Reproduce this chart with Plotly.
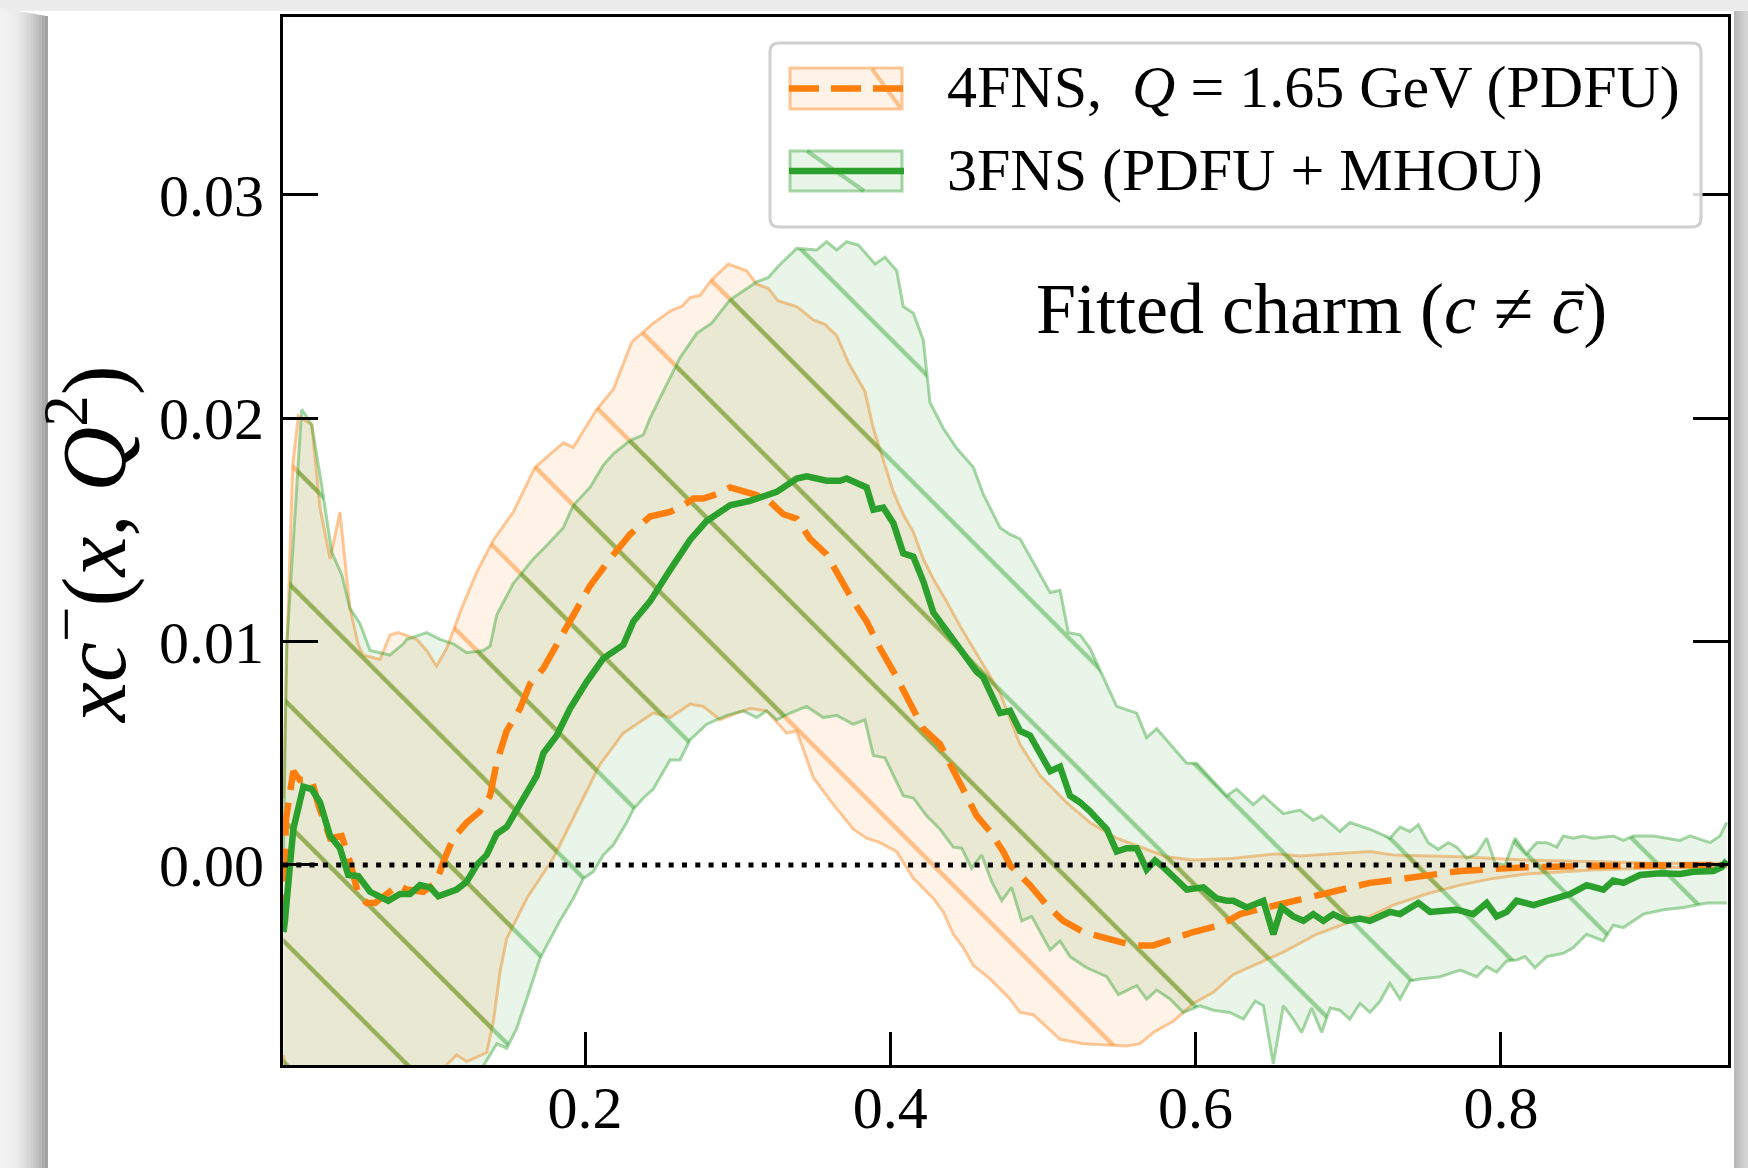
import plotly.graph_objects as go

# ---------------- data ----------------
ou_x = [0.0025, 0.0047, 0.0085, 0.0122, 0.021, 0.0264, 0.033, 0.0395, 0.046, 0.0513, 0.0546, 0.0657, 0.0722,
        0.0777, 0.0897, 0.0963, 0.1027, 0.1094, 0.1192, 0.129, 0.140, 0.153, 0.1672, 0.1858, 0.1923, 0.2077,
        0.2186, 0.2306, 0.2447, 0.2557, 0.2633, 0.2688, 0.2753, 0.283, 0.2939, 0.3059, 0.3125, 0.3201, 0.3266,
        0.3387, 0.3496, 0.3572, 0.3649, 0.3725, 0.3834, 0.3889, 0.3965, 0.402, 0.4085, 0.4151, 0.4216, 0.4282,
        0.4369, 0.4457, 0.4544, 0.4632, 0.4719, 0.485, 0.4981, 0.5155, 0.5308, 0.5483, 0.5657, 0.5811, 0.5985,
        0.6247, 0.6531, 0.6684, 0.6902, 0.7145, 0.7295, 0.7733, 0.8169, 0.8605, 0.9043, 0.948]
ou_y = [0.0030, 0.0096, 0.0179, 0.0201, 0.0197, 0.0160, 0.0137, 0.0158, 0.0115, 0.0099, 0.0094, 0.0092, 0.0103,
        0.0104, 0.0101, 0.0096, 0.0089, 0.0097, 0.0115, 0.0131, 0.01455, 0.0158, 0.0178, 0.0189, 0.0187, 0.0204,
        0.0213, 0.0234, 0.02425, 0.0248, 0.0250, 0.0254, 0.0255, 0.0262, 0.0269, 0.0266, 0.0260, 0.0258, 0.02525,
        0.0250, 0.0244, 0.0242, 0.0237, 0.0225, 0.0212, 0.01955, 0.0179, 0.0167, 0.0157, 0.0149, 0.0137, 0.0128,
        0.0118, 0.0107, 0.0097, 0.0087, 0.0077, 0.0054, 0.0040, 0.0028, 0.0019, 0.0012, 0.00075, 0.00037, 0.00022,
        0.0003, 0.0005, 0.0004, 0.0005, 0.0006, 0.00045, 0.00037, 0.00022, 0.00015, 0.00008, 0.00008]

ol_x = [0.0025, 0.006, 0.05, 0.10, 0.1094, 0.1159, 0.1225, 0.1356, 0.140, 0.1443, 0.1487, 0.1618, 0.1792, 0.1923,
        0.2098, 0.2251, 0.236, 0.2447, 0.2557, 0.2688, 0.2775, 0.2884, 0.2994, 0.3081, 0.319, 0.3321, 0.3387,
        0.3496, 0.3627, 0.3758, 0.3845, 0.3933, 0.4042, 0.4151, 0.4282, 0.4347, 0.4413, 0.4478, 0.4544, 0.4653,
        0.4784, 0.485, 0.4937, 0.5112, 0.5264, 0.5548, 0.5636, 0.5723, 0.5854, 0.5985, 0.6116, 0.6247, 0.6378,
        0.6575, 0.6793, 0.699, 0.7142, 0.7295, 0.7514, 0.7733, 0.795, 0.8169, 0.8605, 0.9043, 0.948]
ol_y = [-0.0085, -0.0105, -0.0120, -0.0105, -0.00895, -0.0085, -0.0088, -0.0084, -0.0070, -0.0048, -0.0033, -0.0015,
        0.0003, 0.0021, 0.0045, 0.0059, 0.0064, 0.0068, 0.0066, 0.0072, 0.0071, 0.0065, 0.0068, 0.0070, 0.0069,
        0.0059, 0.0060, 0.0039, 0.0027, 0.0016, 0.0012, 0.0010, 0.0006, -0.0006, -0.0015, -0.0021, -0.0031,
        -0.0037, -0.0045, -0.0051, -0.0060, -0.0066, -0.0067, -0.0078, -0.0080, -0.0081, -0.0080, -0.0075, -0.0070,
        -0.0062, -0.0057, -0.0049, -0.0045, -0.0039, -0.0031, -0.0026, -0.0023, -0.0018, -0.0013, -0.0009, -0.0006,
        -0.0004, -0.00022, -0.00012, -0.00007]

gu_x = [0.0025, 0.0044, 0.0144, 0.021, 0.0275, 0.0341, 0.0406, 0.046, 0.0526, 0.0592, 0.0722, 0.081, 0.0832, 0.0963,
        0.105, 0.1137, 0.1225, 0.1334, 0.1378, 0.1422, 0.153, 0.1661, 0.1749, 0.1858, 0.1923, 0.2033, 0.212, 0.2186,
        0.2295, 0.2382, 0.2426, 0.2491, 0.2622, 0.2732, 0.283, 0.295, 0.3125, 0.3201, 0.3266, 0.3387, 0.3518,
        0.3583, 0.3649, 0.3714, 0.3791, 0.39, 0.3965, 0.4042, 0.4085, 0.4151, 0.4216, 0.426, 0.4347, 0.4435,
        0.4544, 0.4609, 0.4719, 0.4784, 0.485, 0.5047, 0.5112, 0.5166, 0.5243, 0.5308, 0.5483, 0.5614, 0.5679,
        0.5745, 0.5942, 0.6007, 0.6204, 0.6269, 0.6378, 0.6444, 0.6575, 0.6684, 0.6771, 0.6826, 0.6945, 0.701,
        0.7142, 0.7273, 0.7339, 0.7404, 0.7459, 0.7524, 0.759, 0.7655, 0.771, 0.7776, 0.7841, 0.7907, 0.7961,
        0.8027, 0.8092, 0.8169, 0.8234, 0.83, 0.8366, 0.8409, 0.8474, 0.854, 0.8605, 0.8736, 0.8802, 0.8867,
        0.8998, 0.9173, 0.9239, 0.937, 0.9435, 0.948]
gu_y = [0.0005, 0.0096, 0.0204, 0.0197, 0.0170, 0.0140, 0.0130, 0.0115, 0.0108, 0.0096, 0.0094, 0.0099, 0.0101,
        0.0104, 0.0101, 0.0099, 0.0095, 0.0096, 0.0098, 0.0112, 0.0126, 0.0137, 0.0143, 0.0151, 0.0161, 0.0169,
        0.0179, 0.0184, 0.0190, 0.01925, 0.0200, 0.0209, 0.0227, 0.0238, 0.02425, 0.0253, 0.0261, 0.0263, 0.0268,
        0.0276, 0.02753, 0.0279, 0.02753, 0.0279, 0.02775, 0.0269, 0.0272, 0.0266, 0.0250, 0.0247, 0.0235,
        0.0207, 0.01955, 0.01865, 0.0178, 0.0166, 0.0151, 0.0148, 0.0146, 0.0122, 0.0123, 0.0104, 0.0103, 0.0097,
        0.0071, 0.0068, 0.0057, 0.0061, 0.00455, 0.00455, 0.0031, 0.0034, 0.0027, 0.0031, 0.0023, 0.00246,
        0.0020, 0.0022, 0.0015, 0.0019, 0.0016, 0.0012, 0.0017, 0.0015, 0.0018, 0.0010, 0.0007, 0.0010, 0.0008,
        0.0003, 0.0005, 0.0012, 0.0001, 0.0000, 0.0012, 0.0005, 0.0010, 0.0010, 0.0008, 0.0013, 0.0012, 0.0013,
        0.0012, 0.0013, 0.0011, 0.0013, 0.0013, 0.0011, 0.0013, 0.0010, 0.0013, 0.0019]

gl_x = [0.0025, 0.05, 0.12, 0.1334, 0.1422, 0.1487, 0.1553, 0.1618, 0.1705, 0.1749, 0.1836, 0.1923, 0.1989, 0.2054,
        0.212, 0.2186, 0.2273, 0.2317, 0.2382, 0.2447, 0.2557, 0.2622, 0.2688, 0.2797, 0.2928, 0.3037, 0.3125,
        0.319, 0.3256, 0.3343, 0.3452, 0.3561, 0.3649, 0.3758, 0.3834, 0.3889, 0.3965, 0.4085, 0.4151, 0.4238,
        0.4326, 0.4413, 0.4468, 0.4533, 0.4599, 0.4664, 0.473, 0.4795, 0.4861, 0.4926, 0.5047, 0.5112, 0.5177,
        0.5287, 0.5418, 0.5494, 0.5614, 0.5679, 0.5745, 0.5832, 0.5919, 0.603, 0.6116, 0.6225, 0.6313, 0.639,
        0.6444, 0.6509, 0.6575, 0.664, 0.6695, 0.676, 0.6826, 0.6881, 0.6945, 0.701, 0.7077, 0.7142, 0.7208,
        0.7273, 0.7339, 0.7404, 0.747, 0.7601, 0.7733, 0.7841, 0.7907, 0.7972, 0.8038, 0.8103, 0.8158, 0.8223,
        0.83, 0.8409, 0.8474, 0.8562, 0.8671, 0.8736, 0.8802, 0.8933, 0.9064, 0.9195, 0.9348, 0.948]
gl_y = [-0.0095, -0.0130, -0.0105, -0.0090, -0.0080, -0.0082, -0.0073, -0.0060, -0.0042, -0.0036, -0.0025, -0.0015,
        -0.0006, -0.0003, 0.00045, 0.0009, 0.0019, 0.0025, 0.0030, 0.0034, 0.0047, 0.0047, 0.0056, 0.0063, 0.0067,
        0.0069, 0.0066, 0.0069, 0.0065, 0.0068, 0.0071, 0.0066, 0.0067, 0.0063, 0.0065, 0.0049, 0.0048, 0.0031,
        0.0030, 0.0022, 0.0016, 0.0008, 0.00075, -0.00015, 0.00045, -0.00075, -0.0016, -0.0010, -0.0025, -0.0023,
        -0.0038, -0.0034, -0.0041, -0.0046, -0.0050, -0.0058, -0.0054, -0.0060, -0.0056, -0.0060, -0.0066, -0.0063,
        -0.0065, -0.0066, -0.0069, -0.0061, -0.0063, -0.0089, -0.0063, -0.0069, -0.0075, -0.0064, -0.0075, -0.0064,
        -0.0065, -0.0069, -0.0062, -0.0066, -0.0061, -0.0053, -0.0060, -0.0052, -0.0051, -0.0050, -0.0047, -0.0050,
        -0.00455, -0.0048, -0.0043, -0.00425, -0.0041, -0.0046, -0.0041, -0.00395, -0.0037, -0.0031, -0.0034,
        -0.0027, -0.0028, -0.0022, -0.0020, -0.0019, -0.0017, -0.0017]

oc_x = [0.0025, 0.0040, 0.0089, 0.0133, 0.021, 0.0253, 0.033, 0.0406, 0.046, 0.0515, 0.057, 0.0624, 0.0701, 0.0777,
        0.0832, 0.0941, 0.1028, 0.1072, 0.1137, 0.1225, 0.1312, 0.1378, 0.1422, 0.1487, 0.1574, 0.164, 0.1727,
        0.1792, 0.1902, 0.2033, 0.2164, 0.2295, 0.2426, 0.2557, 0.2644, 0.271, 0.2775, 0.2863, 0.295, 0.3015,
        0.3103, 0.319, 0.3299, 0.3387, 0.3474, 0.3583, 0.3671, 0.3758, 0.3845, 0.3933, 0.4042, 0.4129, 0.4216,
        0.4326, 0.4391, 0.4478, 0.4566, 0.4653, 0.474, 0.4784, 0.4915, 0.5025, 0.5133, 0.5264, 0.5418, 0.5592,
        0.5723, 0.5854, 0.5985, 0.616, 0.6291, 0.6466, 0.664, 0.6815, 0.699, 0.7142, 0.7295, 0.7514, 0.7733,
        0.795, 0.8169, 0.8605, 0.9043, 0.948]
oc_y = [-0.0028, 0.0020, 0.0042, 0.0038, 0.0038, 0.0027, 0.0012, 0.0013, 0.00015, -0.0013, -0.0017, -0.0017,
        -0.0013, -0.0009, -0.0011, -0.0012, -0.00075, 0.00015, 0.0012, 0.0019, 0.0024, 0.0031, 0.0046, 0.0060,
        0.0070, 0.0081, 0.0088, 0.0096, 0.0110, 0.0125, 0.0137, 0.0148, 0.0156, 0.0158, 0.0161, 0.0164, 0.0164,
        0.0166, 0.0169, 0.0168, 0.0166, 0.0164, 0.0157, 0.0155, 0.0146, 0.0139, 0.0128, 0.0118, 0.0109, 0.0097,
        0.0084, 0.0073, 0.0061, 0.0054, 0.0045, 0.0034, 0.0022, 0.0015, 0.0006, 0.0, -0.0009, -0.0018, -0.0025,
        -0.0030, -0.0033, -0.0036, -0.0036, -0.0033, -0.0030, -0.0027, -0.0022, -0.0019, -0.0016, -0.0013,
        -0.0010, -0.0008, -0.00067, -0.00045, -0.00027, -0.00018, -0.0001, -0.00004, -0.00003, 0.0]

gc_x = [0.0025, 0.0034, 0.0089, 0.0155, 0.021, 0.0264, 0.033, 0.0395, 0.0449, 0.0515, 0.0592, 0.0711, 0.0788,
        0.0854, 0.0919, 0.0985, 0.1039, 0.1159, 0.1225, 0.129, 0.1356, 0.1422, 0.1487, 0.1553, 0.1618, 0.1684,
        0.1727, 0.1815, 0.1902, 0.2011, 0.212, 0.2251, 0.2317, 0.2426, 0.2557, 0.2688, 0.2797, 0.295, 0.3081,
        0.3256, 0.3387, 0.3452, 0.3583, 0.3671, 0.3714, 0.3845, 0.3889, 0.3954, 0.402, 0.4085, 0.4151, 0.4216,
        0.4282, 0.4369, 0.4457, 0.4566, 0.4609, 0.4719, 0.4784, 0.485, 0.4915, 0.5047, 0.5112, 0.5177, 0.5243,
        0.5308, 0.5418, 0.5483, 0.5548, 0.5614, 0.5679, 0.5734, 0.5789, 0.5876, 0.5942, 0.6051, 0.6138, 0.6204,
        0.6247, 0.6335, 0.6444, 0.6509, 0.6564, 0.664, 0.6706, 0.6771, 0.6837, 0.6902, 0.699, 0.7077, 0.7142,
        0.7273, 0.7339, 0.7459, 0.7536, 0.771, 0.7819, 0.7907, 0.7972, 0.8038, 0.8103, 0.8213, 0.83, 0.8453,
        0.8562, 0.8671, 0.8736, 0.8802, 0.8911, 0.9043, 0.9173, 0.926, 0.9392, 0.9447, 0.948]
gc_y = [-0.0030, -0.0025, 0.0016, 0.0035, 0.0034, 0.0028, 0.0013, 0.00075, -0.00045, -0.0005, -0.0012, -0.0016,
        -0.0013, -0.0013, -0.0009, -0.0010, -0.0014, -0.0011, -0.00075, 0.0, 0.00045, 0.0014, 0.0017, 0.0025,
        0.0033, 0.0040, 0.0050, 0.0058, 0.0070, 0.0082, 0.00925, 0.00985, 0.0109, 0.0118, 0.0132, 0.01455,
        0.0154, 0.0161, 0.0163, 0.0167, 0.0173, 0.0174, 0.0172, 0.0172, 0.0173, 0.0169, 0.0159, 0.0160, 0.0153,
        0.01395, 0.0138, 0.0127, 0.0113, 0.0105, 0.0097, 0.00865, 0.0084, 0.0068, 0.0069, 0.0060, 0.0058, 0.0042,
        0.0044, 0.0031, 0.0028, 0.0024, 0.0016, 0.0006, 0.00075, 0.00075, -0.0002, 0.0002, -0.0001, -0.0007,
        -0.0011, -0.0010, -0.0015, -0.0016, -0.0016, -0.0019, -0.0016, -0.0031, -0.0019, -0.0023, -0.0025,
        -0.0022, -0.0025, -0.0022, -0.0025, -0.0024, -0.0025, -0.0021, -0.0022, -0.0017, -0.0021, -0.0020,
        -0.0022, -0.0017, -0.0023, -0.0021, -0.0016, -0.0018, -0.0016, -0.0013, -0.0009, -0.0011, -0.0007,
        -0.0008, -0.00045, -0.00037, -0.0004, -0.0003, -0.00027, -0.0001, 0.0002]

x_tickvals = [0.2, 0.4, 0.6, 0.8]
x_ticktext = ["0.2", "0.4", "0.6", "0.8"]
y_tickvals = [0.0, 0.01, 0.02, 0.03]
y_ticktext = ["0.00", "0.01", "0.02", "0.03"]

legend_labels = ["4FNS,  <i>Q</i> = 1.65 GeV (PDFU)", "3FNS (PDFU + MHOU)"]
annotation_text = "Fitted charm (<i>c</i> ≠ <i>c\u0304</i>)"
y_title = "<i>xc</i><sup>−</sup>(<i>x</i>, <i>Q</i><sup>2</sup>)"

# ---------------- styling ----------------
FONT = "Liberation Serif"
ORANGE = "#ff7f0e"
GREEN = "#2ca02c"
O_FILL = "rgba(255,127,14,0.10)"
O_EDGE = "rgba(255,127,14,0.42)"
G_FILL = "rgba(44,160,44,0.10)"
G_EDGE = "rgba(44,160,44,0.42)"
O_HATCH = "rgba(255,127,14,0.46)"
G_HATCH = "rgba(44,160,44,0.46)"

W_FIG, H_FIG = 1748, 1168
ML, MR, MT, MB = 283, 20, 17, 103
PW = W_FIG - ML - MR
PH = H_FIG - MT - MB
X_RANGE = [0.00216, 0.94877]
Y_RANGE = [-0.008953, 0.037959]

# The traces live on a hidden subplot whose top edge sits HATCH_SHIFT px lower than the
# visible frame (same data->pixel mapping); this only moves the hatch-pattern origin.
HATCH_SHIFT = 77
dom_top = (PH - HATCH_SHIFT) / PH
y_hidden_range = [Y_RANGE[0], Y_RANGE[0] + (Y_RANGE[1] - Y_RANGE[0]) * dom_top]


def px(x):
    return (x - ML) / PW


def py(y):
    return 1 - (y - MT) / PH


fig = go.Figure()

band_pattern = dict(shape="\\", size=85.5, solidity=0.05, fillmode="replace")

# 4FNS band
fig.add_trace(go.Scatter(x=ou_x, y=ou_y, mode="lines", line=dict(color=O_EDGE, width=3),
                         showlegend=False, hoverinfo="skip"))
fig.add_trace(go.Scatter(x=ol_x, y=ol_y, mode="lines", line=dict(color=O_EDGE, width=3),
                         fill="tonexty", fillcolor=O_FILL,
                         fillpattern=dict(fgcolor=O_HATCH, bgcolor=O_FILL, **band_pattern),
                         showlegend=False, hoverinfo="skip"))
# 3FNS band
fig.add_trace(go.Scatter(x=gu_x, y=gu_y, mode="lines", line=dict(color=G_EDGE, width=3),
                         showlegend=False, hoverinfo="skip"))
fig.add_trace(go.Scatter(x=gl_x, y=gl_y, mode="lines", line=dict(color=G_EDGE, width=3),
                         fill="tonexty", fillcolor=G_FILL,
                         fillpattern=dict(fgcolor=G_HATCH, bgcolor=G_FILL, **band_pattern),
                         showlegend=False, hoverinfo="skip"))
# central values
fig.add_trace(go.Scatter(x=oc_x, y=oc_y, mode="lines",
                         line=dict(color=ORANGE, width=6.5, dash="33px,13px"),
                         showlegend=False, hoverinfo="skip"))
fig.add_trace(go.Scatter(x=gc_x, y=gc_y, mode="lines",
                         line=dict(color=GREEN, width=6.5),
                         showlegend=False, hoverinfo="skip"))

shapes = []
# page shadow around the white card
shapes.append(dict(type="rect", xref="paper", yref="paper", layer="below",
                   x0=px(0), x1=px(W_FIG), y0=py(0), y1=py(11),
                   fillcolor="#ececec", line=dict(width=0)))
n_strip = 16
for i in range(n_strip):
    t = i / (n_strip - 1)
    g = int(242 - (242 - 160) * t ** 2.2)
    shapes.append(dict(type="rect", xref="paper", yref="paper", layer="below",
                       x0=px(i * 3), x1=px(i * 3 + 3), y0=py(H_FIG), y1=py(8 + 8 * t),
                       fillcolor=f"rgb({g},{g},{g})", line=dict(width=0)))
for i in range(7):
    t = i / 6
    g = int(185 + 30 * t)
    shapes.append(dict(type="rect", xref="paper", yref="paper", layer="below",
                       x0=px(1734 + 2 * i), x1=px(1736 + 2 * i), y0=py(H_FIG), y1=py(11),
                       fillcolor=f"rgb({g},{g},{g})", line=dict(width=0)))

# zero reference line
shapes.append(dict(type="line", xref="paper", yref="y2", x0=0, x1=1, y0=0, y1=0, layer="above",
                   line=dict(color="black", width=5, dash="5px,8.3px")))

# legend frame (rounded)
x0, x1, y0, y1, r = 770, 1701, 43, 227, 9
path = (f"M{px(x0 + r)},{py(y0)} L{px(x1 - r)},{py(y0)} Q{px(x1)},{py(y0)} {px(x1)},{py(y0 + r)} "
        f"L{px(x1)},{py(y1 - r)} Q{px(x1)},{py(y1)} {px(x1 - r)},{py(y1)} "
        f"L{px(x0 + r)},{py(y1)} Q{px(x0)},{py(y1)} {px(x0)},{py(y1 - r)} "
        f"L{px(x0)},{py(y0 + r)} Q{px(x0)},{py(y0)} {px(x0 + r)},{py(y0)} Z")
shapes.append(dict(type="path", xref="paper", yref="paper", path=path, layer="above",
                   fillcolor="rgba(255,255,255,0.85)", line=dict(color="#d0d0d0", width=3)))

# legend swatches
for (yt, yb, fillc, edgec, hatch, col, dash, ymid) in [
        (68, 109, O_FILL, O_EDGE, (872, 69, 900, 107), ORANGE, "30px,12px", 88.5),
        (151, 191, G_FILL, G_EDGE, (807, 151, 864, 191), GREEN, "solid", 171)]:
    shapes.append(dict(type="rect", xref="paper", yref="paper", layer="above",
                       x0=px(790), x1=px(902), y0=py(yb), y1=py(yt),
                       fillcolor=fillc, line=dict(color=edgec, width=3)))
    shapes.append(dict(type="line", xref="paper", yref="paper", layer="above",
                       x0=px(hatch[0]), y0=py(hatch[1]), x1=px(hatch[2]), y1=py(hatch[3]),
                       line=dict(color=edgec, width=4)))
    shapes.append(dict(type="line", xref="paper", yref="paper", layer="above",
                       x0=px(789), y0=py(ymid), x1=px(904), y1=py(ymid),
                       line=dict(color=col, width=6.5, dash=dash)))

annotations = []
for lab, ymid in zip(legend_labels, [87, 170]):
    annotations.append(dict(text=lab, xref="paper", yref="paper", x=px(945), y=py(ymid),
                            xanchor="left", yanchor="middle", showarrow=False,
                            font=dict(family=FONT, size=60, color="black")))
annotations.append(dict(text=annotation_text, xref="paper", yref="paper", x=px(1321), y=py(309),
                        xanchor="center", yanchor="middle", showarrow=False,
                        font=dict(family=FONT, size=72, color="black")))
annotations.append(dict(text=y_title, xref="paper", yref="paper", x=px(88), y=py(544),
                        xanchor="center", yanchor="middle", showarrow=False, textangle=-90,
                        font=dict(family=FONT, size=90, color="black")))

axis_common = dict(showline=True, linecolor="black", linewidth=3, ticks="inside", tickwidth=3,
                   tickcolor="black", showgrid=False, zeroline=False,
                   tickfont=dict(family=FONT, size=60, color="black"))

fig.update_layout(
    width=W_FIG, height=H_FIG,
    margin=dict(l=ML, r=MR, t=MT, b=MB, pad=0),
    paper_bgcolor="white", plot_bgcolor="rgba(0,0,0,0)",
    showlegend=False,
    shapes=shapes, annotations=annotations,
    # hidden axes carrying the traces
    xaxis=dict(range=X_RANGE, domain=[0, 1], anchor="y", visible=False),
    yaxis=dict(range=y_hidden_range, domain=[0, dom_top], anchor="x", visible=False),
    # visible frame, ticks and labels
    xaxis2=dict(range=X_RANGE, domain=[0, 1], anchor="y2", tickvals=x_tickvals, ticktext=x_ticktext,
                mirror=True, ticklen=33, ticklabelstandoff=-12, **axis_common),
    yaxis2=dict(range=Y_RANGE, domain=[0, 1], anchor="x2", tickvals=y_tickvals, ticktext=y_ticktext,
                mirror="ticks", ticklen=35, ticklabelstandoff=4, **axis_common),
)

fig.write_html("out.html", config={"displayModeBar": False},
               post_script="document.body.style.margin='0px';document.body.style.overflow='hidden';")
